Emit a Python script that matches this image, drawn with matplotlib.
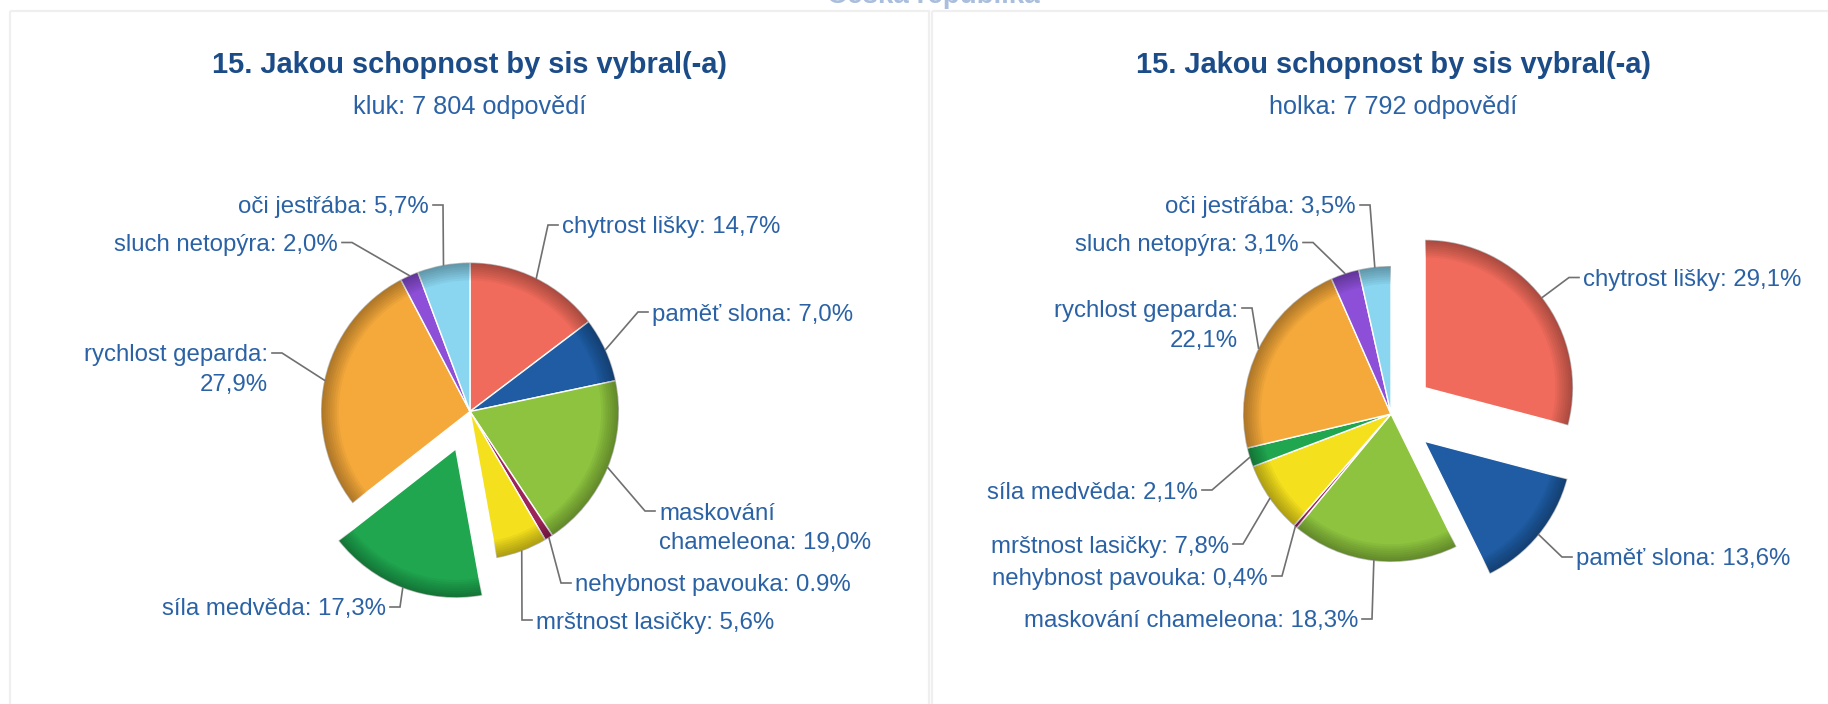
import numpy as np
import matplotlib
matplotlib.use('Agg')
import matplotlib.pyplot as plt
from matplotlib.patches import Rectangle

# ---------------- data ----------------
categories = ['chytrost lišky', 'paměť slona', 'maskování chameleona', 'nehybnost pavouka',
              'mrštnost lasičky', 'síla medvěda', 'rychlost geparda', 'sluch netopýra',
              'oči jestřába']
kluk_values = [14.7, 7.0, 19.0, 0.9, 5.6, 17.3, 27.9, 2.0, 5.7]
holka_values = [29.1, 13.6, 18.3, 0.4, 7.8, 2.1, 22.1, 3.1, 3.5]
groups = ['kluk', 'holka']
answer_counts = ['7 804', '7 792']
question = '15. Jakou schopnost by sis vybral(-a)'
page_title = 'Česká republika'
sliced_kluk = ['síla medvěda']
sliced_holka = ['chytrost lišky', 'paměť slona']

# ---------------- style ----------------
slice_colors = ['#F06B5C', '#1F5CA3', '#8DC33F', '#9B2458', '#F5E01E',
                '#20A64F', '#F5A93B', '#8D4FD8', '#8AD5F0']
title_color = '#1B4C88'
label_color = '#2A62A5'
line_color = '#707070'
FONT = ['Liberation Sans', 'DejaVu Sans']
plt.rcParams['font.family'] = FONT

W, H = 1828, 704
fig = plt.figure(figsize=(W / 100, H / 100), dpi=100)
ax = fig.add_axes([0, 0, 1, 1])

# panel layout (pixels)
panels = [
    dict(center=(470, 411.5), radius=149, explode_px=40, title_x=470,
         values=kluk_values, sliced=sliced_kluk,
         labels={  # name: (text x, text y, side, line break)
             'chytrost lišky': (562, 225, 'R', None),
             'paměť slona': (652, 312, 'R', None),
             'maskování chameleona': (659, 511, 'R', 'maskování\nchameleona'),
             'nehybnost pavouka': (575, 583, 'R', None),
             'mrštnost lasičky': (536, 620, 'R', None),
             'síla medvěda': (386, 607, 'L', None),
             'rychlost geparda': (268, 353, 'L', 'rychlost geparda:\n'),
             'sluch netopýra': (338, 242.5, 'L', None),
             'oči jestřába': (429, 205, 'L', None),
         },
         decimal={'nehybnost pavouka': '.'}),
    dict(center=(1391, 414), radius=148, explode_px=43, title_x=1393,
         values=holka_values, sliced=sliced_holka,
         labels={
             'chytrost lišky': (1583, 277.5, 'R', None),
             'paměť slona': (1576, 557, 'R', None),
             'maskování chameleona': (1358, 619, 'L', None),
             'nehybnost pavouka': (1268, 576, 'L', None),
             'mrštnost lasičky': (1229, 544, 'L', None),
             'síla medvěda': (1198, 490, 'L', None),
             'rychlost geparda': (1238, 308, 'L', 'rychlost geparda:\n'),
             'sluch netopýra': (1299, 242.5, 'L', None),
             'oči jestřába': (1356, 205, 'L', None),
         },
         decimal={}),
]

# panel frames
ax.add_patch(Rectangle((10, 11), 919, 720, fill=False, edgecolor='#EFEFEF', lw=1.6, zorder=0))
ax.add_patch(Rectangle((932, 11), 920, 720, fill=False, edgecolor='#EFEFEF', lw=1.6, zorder=0))
ax.text(933, 3, page_title, ha='center', va='baseline', fontsize=20, fontweight='bold',
        color='#A9BEDC', zorder=1)

for p, grp, cnt in zip(panels, groups, answer_counts):
    vals = p['values']
    cx, cy = p['center']
    r = p['radius']
    expl = [p['explode_px'] if c in p['sliced'] else 0 for c in categories]
    common = dict(startangle=-90, counterclock=True, center=(cx, cy), radius=r,
                  explode=expl, frame=False)
    ax.pie(vals, colors=slice_colors,
           wedgeprops=dict(linewidth=1.0, edgecolor='white'), **common)
    # rim shading (3D look)
    n = 8
    for k in range(n):
        w = r * (0.12 - 0.105 * k / (n - 1))
        ax.pie(vals, colors=['black'] * len(vals),
               wedgeprops=dict(width=w, alpha=0.038, linewidth=0), **common)

    # titles
    ax.text(p['title_x'], 73, question, ha='center', va='baseline', fontsize=20.9,
            fontweight='bold', color=title_color)
    ax.text(p['title_x'], 114, f'{grp}: {cnt} odpovědí', ha='center', va='baseline',
            fontsize=18.2, color=label_color)

    # labels and connectors
    fr = np.array(vals) / np.sum(vals)
    cum = np.concatenate([[0], np.cumsum(fr)])
    for i, name in enumerate(categories):
        tx, ty, side, brk = p['labels'][name]
        sep = p['decimal'].get(name, ',')
        pct = f'{vals[i]:.1f}'.replace('.', sep) + '%'
        txt = f'{name}: {pct}'
        if brk is not None:
            if brk.endswith('\n'):
                txt = brk + pct
            else:
                txt = brk + ': ' + pct
        theta = np.deg2rad(-90 + 360 * (cum[i] + cum[i + 1]) / 2)
        ox, oy = cx + expl[i] * np.cos(theta), cy + expl[i] * np.sin(theta)
        ex, ey = ox + r * np.cos(theta), oy + r * np.sin(theta)
        if side == 'R':
            t0, t1 = tx - 4, tx - 14
            ha = 'left'
        else:
            t0, t1 = tx + 4, tx + 14
            ha = 'right'
        ax.plot([t0, t1, ex], [ty, ty, ey], color=line_color, lw=1.2,
                solid_joinstyle='miter', zorder=5)
        for j, line in enumerate(txt.split('\n')):
            ax.text(tx, ty + 30 * j, line, ha=ha, va='center_baseline', fontsize=17.3,
                    color=label_color, zorder=6)

ax.set_xlim(0, W)
ax.set_ylim(H, 0)
ax.set_aspect('auto')
ax.axis('off')
fig.savefig('out.png', dpi=100, facecolor='white')
